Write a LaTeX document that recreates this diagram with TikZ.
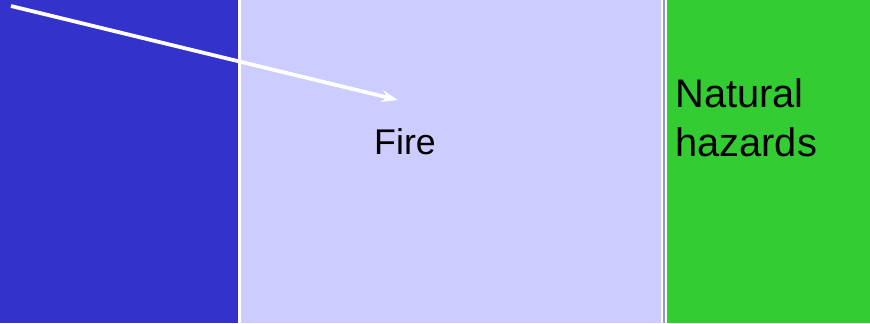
\documentclass[tikz,border=0pt]{standalone}
\usepackage{fontspec}
\setmainfont{Liberation Sans}
\usetikzlibrary{arrows.meta,positioning}
\definecolor{deepBlue}{RGB}{51,51,204}
\definecolor{paleBlue}{RGB}{204,204,255}
\definecolor{edgeBlue}{RGB}{150,150,222}
\definecolor{leafGreen}{RGB}{51,204,51}

\begin{document}
\begin{tikzpicture}[x=0.03cm,y=-0.03cm,
  label/.style={inner sep=0pt,font=\fontsize{30.5}{41}\selectfont,text=black},
  pointer/.style={draw=white,line width=3.2pt,-{Stealth[length=0.5cm,width=0.36cm,inset=0.18cm]}}]
\useasboundingbox (0,0) rectangle (870,323);
\fill[white] (0,0) rectangle (870,323);
% panels
\fill[deepBlue] (0,0) rectangle (238,323);
\fill[paleBlue] (241,0) rectangle (661,323);
\fill[edgeBlue] (663,0) rectangle (665,323);
\fill[leafGreen] (667,0) rectangle (870,323);
% texts
\node[label,anchor=base west] (fire) at (374,154) {Fire};
\node[label,anchor=base west,align=left,font=\fontsize{34}{41}\selectfont] (hazards) at (675,156) {Natural\\hazards};
% pointer
\coordinate (start) at (11,6);
\coordinate (tip) at (398,100);
\draw[pointer] (start) -- (tip);
\end{tikzpicture}
\end{document}
